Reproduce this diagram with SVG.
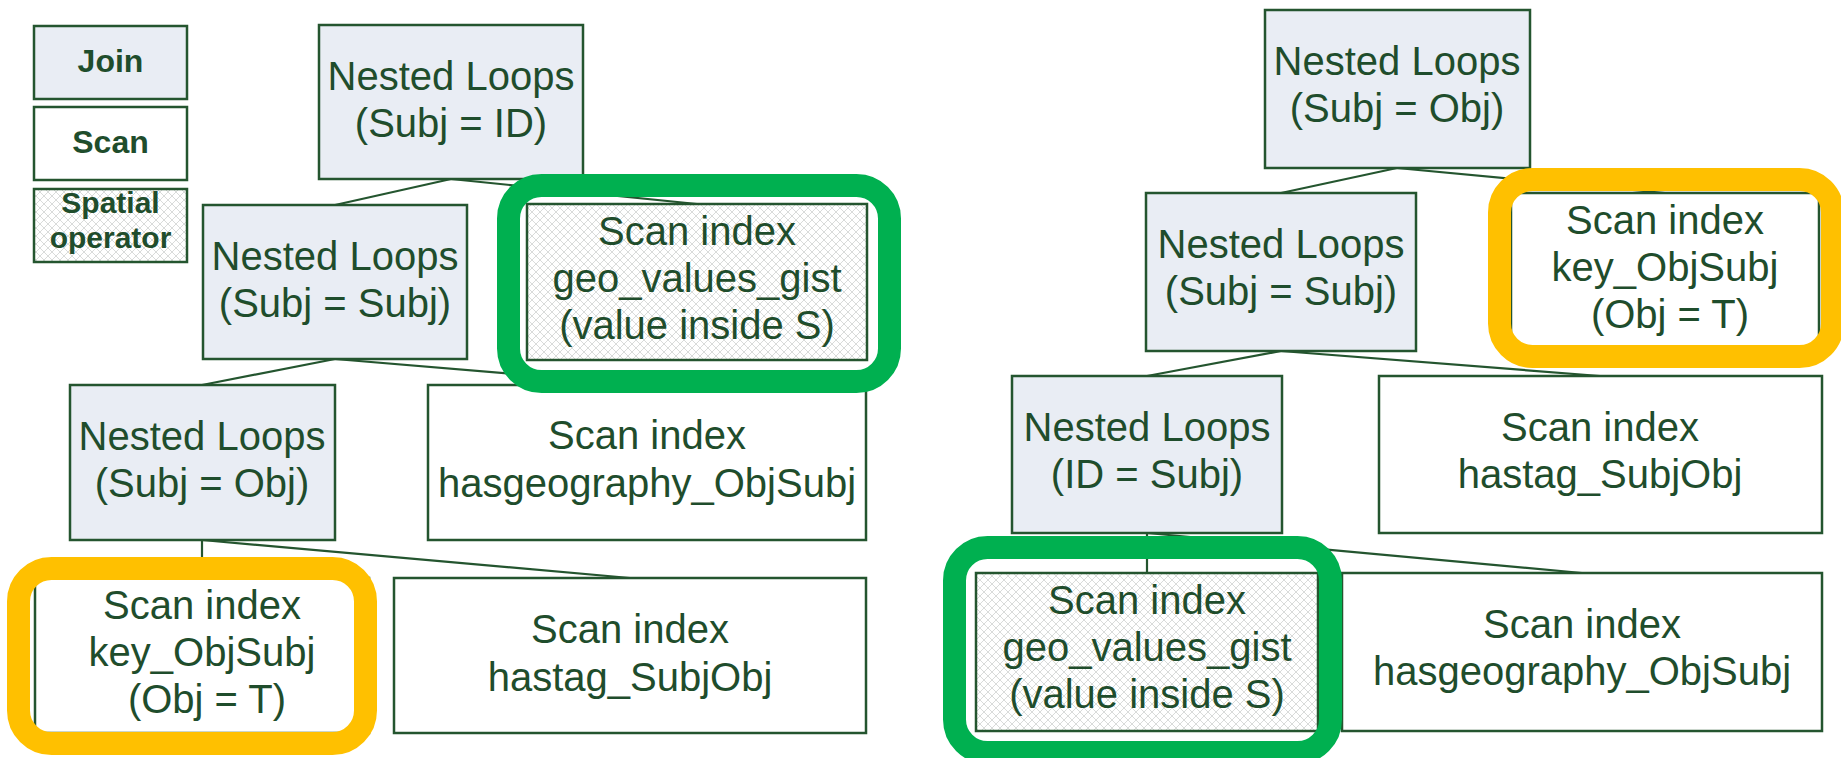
<svg xmlns="http://www.w3.org/2000/svg" width="1841" height="758" viewBox="0 0 1841 758">
<style>
.box{stroke:#24552f;stroke-width:2.5}
.join{fill:#e9edf4}
.scan{fill:#ffffff}
.spatial{fill:url(#hatch)}
.t{font-family:"Liberation Sans",Arial,sans-serif;font-size:40px;fill:#1f4d2c;text-anchor:middle}
.lg{font-family:"Liberation Sans",Arial,sans-serif;font-size:32px;font-weight:bold;fill:#1f4d2c;text-anchor:middle}
.lg2{font-family:"Liberation Sans",Arial,sans-serif;font-size:30px;font-weight:bold;fill:#1f4d2c;text-anchor:middle}
.conn line{stroke:#24552f;stroke-width:2.2}
.ring{fill:none;stroke-width:23}
.green{stroke:#00b050}
.yellow{stroke:#ffc000}
</style>
<defs>
<pattern id="hatch" width="8" height="8" patternUnits="userSpaceOnUse">
<rect width="8" height="8" fill="#ffffff"/>
<path d="M0,0 L8,8 M8,0 L0,8" stroke="#cfd2d0" stroke-width="0.8"/>
</pattern>
</defs>
<rect width="1841" height="758" fill="#ffffff"/>

<g id="connectors" class="conn">
<line x1="451" y1="179" x2="335" y2="205"/>
<line x1="451" y1="179" x2="697" y2="204"/>
<line x1="335" y1="359" x2="202" y2="385"/>
<line x1="335" y1="359" x2="647" y2="385"/>
<line x1="202" y1="540" x2="202" y2="578"/>
<line x1="202" y1="540" x2="630" y2="578"/>
<line x1="1397" y1="168" x2="1281" y2="193"/>
<line x1="1397" y1="168" x2="1665" y2="193"/>
<line x1="1281" y1="351" x2="1147" y2="376"/>
<line x1="1281" y1="351" x2="1600" y2="376"/>
<line x1="1147" y1="533" x2="1147" y2="573"/>
<line x1="1147" y1="533" x2="1582" y2="573"/>
</g>

<g id="legend-join">
<rect class="box join" x="34" y="26" width="153" height="73"/>
<text class="lg" x="110.5" y="72">Join</text>
</g>
<g id="legend-scan">
<rect class="box scan" x="34" y="107" width="153" height="73"/>
<text class="lg" x="110.5" y="153">Scan</text>
</g>
<g id="legend-spatial">
<rect class="box spatial" x="34" y="189" width="153" height="73"/>
<text class="lg2" x="110.5" y="213">Spatial</text>
<text class="lg2" x="110.5" y="248">operator</text>
</g>

<g id="L-nl-subj-id">
<rect class="box join" x="319" y="25" width="264" height="154"/>
<text class="t" x="451" y="90">Nested Loops</text>
<text class="t" x="451" y="137">(Subj = ID)</text>
</g>
<g id="L-nl-subj-subj">
<rect class="box join" x="203" y="205" width="264" height="154"/>
<text class="t" x="335" y="270">Nested Loops</text>
<text class="t" x="335" y="317">(Subj = Subj)</text>
</g>
<g id="L-geo">
<rect class="box spatial" x="527" y="204" width="340" height="156"/>
<text class="t" x="697" y="245">Scan index</text>
<text class="t" x="697" y="292">geo_values_gist</text>
<text class="t" x="697" y="339">(value inside S)</text>
</g>
<g id="L-nl-subj-obj">
<rect class="box join" x="70" y="385" width="265" height="155"/>
<text class="t" x="202" y="450">Nested Loops</text>
<text class="t" x="202" y="497">(Subj = Obj)</text>
</g>
<g id="L-hasgeo">
<rect class="box scan" x="428" y="385" width="438" height="155"/>
<text class="t" x="647" y="449">Scan index</text>
<text class="t" x="647" y="497">hasgeography_ObjSubj</text>
</g>
<g id="L-key">
<rect class="box scan" x="35" y="578" width="334" height="155"/>
<text class="t" x="202" y="619">Scan index</text>
<text class="t" x="202" y="666">key_ObjSubj</text>
<text class="t" x="207" y="713">(Obj = T)</text>
</g>
<g id="L-hastag">
<rect class="box scan" x="394" y="578" width="472" height="155"/>
<text class="t" x="630" y="643">Scan index</text>
<text class="t" x="630" y="691">hastag_SubjObj</text>
</g>

<g id="R-nl-subj-obj">
<rect class="box join" x="1265" y="10" width="265" height="158"/>
<text class="t" x="1397" y="75">Nested Loops</text>
<text class="t" x="1397" y="122">(Subj = Obj)</text>
</g>
<g id="R-nl-subj-subj">
<rect class="box join" x="1146" y="193" width="270" height="158"/>
<text class="t" x="1281" y="258">Nested Loops</text>
<text class="t" x="1281" y="305">(Subj = Subj)</text>
</g>
<g id="R-key">
<rect class="box scan" x="1511" y="193" width="308" height="157"/>
<text class="t" x="1665" y="234">Scan index</text>
<text class="t" x="1665" y="281">key_ObjSubj</text>
<text class="t" x="1670" y="328">(Obj = T)</text>
</g>
<g id="R-nl-id-subj">
<rect class="box join" x="1012" y="376" width="270" height="157"/>
<text class="t" x="1147" y="441">Nested Loops</text>
<text class="t" x="1147" y="488">(ID = Subj)</text>
</g>
<g id="R-hastag">
<rect class="box scan" x="1379" y="376" width="443" height="157"/>
<text class="t" x="1600" y="441">Scan index</text>
<text class="t" x="1600" y="488">hastag_SubjObj</text>
</g>
<g id="R-geo">
<rect class="box spatial" x="976" y="573" width="342" height="158"/>
<text class="t" x="1147" y="614">Scan index</text>
<text class="t" x="1147" y="661">geo_values_gist</text>
<text class="t" x="1147" y="708">(value inside S)</text>
</g>
<g id="R-hasgeo">
<rect class="box scan" x="1342" y="573" width="480" height="158"/>
<text class="t" x="1582" y="638">Scan index</text>
<text class="t" x="1582" y="685">hasgeography_ObjSubj</text>
</g>

<g id="highlights">
<rect class="ring green" x="508.5" y="185.5" width="381" height="196" rx="33"/>
<rect class="ring yellow" x="18.5" y="568.5" width="347" height="175" rx="33"/>
<rect class="ring yellow" x="1499.5" y="179.5" width="333" height="177" rx="33"/>
<rect class="ring green" x="954.5" y="547.5" width="376" height="205" rx="33"/>
</g>
</svg>
